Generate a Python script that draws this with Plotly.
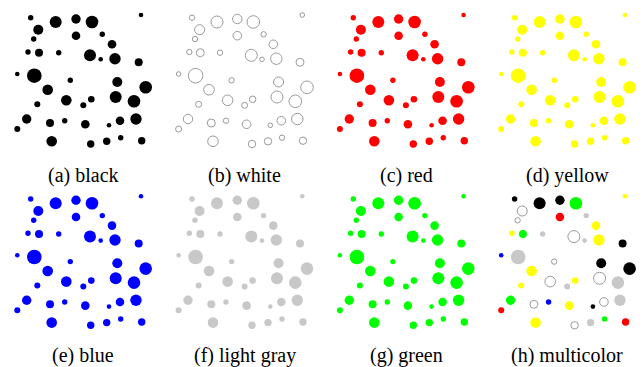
import plotly.graph_objects as go

# Dot layout shared by every panel (x, y in panel units, y grows downward)
dot_x = [30.7, 55.7, 76.0, 92.0, 141.0, 38.3, 33.7, 76.0, 102.3, 112.0,
         28.0, 39.0, 58.7, 90.0, 100.7, 115.0, 138.7, 17.3, 34.3, 70.3,
         117.3, 145.7, 47.7, 66.3, 91.3, 83.3, 115.7, 134.0, 37.3, 26.7,
         50.0, 64.7, 85.3, 109.0, 120.0, 136.0, 17.3, 51.7, 90.7, 106.7,
         120.7, 141.7]
dot_y = [17.7, 22.0, 19.0, 22.0, 15.0, 29.7, 39.0, 35.7, 34.3, 44.3,
         52.0, 52.7, 52.7, 55.3, 59.3, 58.7, 62.3, 74.0, 75.7, 80.3,
         82.0, 87.3, 89.7, 100.3, 99.3, 105.3, 97.0, 101.3, 104.3, 119.0,
         123.0, 120.7, 124.3, 125.3, 120.7, 119.0, 129.0, 141.3, 144.0, 141.3,
         137.7, 140.7]
dot_d = [5.4, 12.0, 9.4, 12.6, 4.6, 10.0, 5.4, 8.6, 5.4, 8.6,
         5.4, 8.0, 5.4, 12.0, 4.6, 11.4, 8.0, 4.6, 14.6, 5.4,
         10.0, 12.6, 10.6, 10.6, 6.6, 6.0, 12.0, 12.6, 6.0, 9.4,
         8.0, 5.4, 8.6, 4.6, 8.6, 11.4, 6.0, 10.6, 7.4, 7.4,
         5.4, 7.4]

# Colour of each dot in the mixed panel
mixed = ["black", "black", "black", "green", "yellow", "white", "white", "red", "gray", "yellow",
         "yellow", "green", "gray", "white", "gray", "yellow", "black", "blue", "gray", "white",
         "black", "black", "yellow", "white", "yellow", "gray", "white", "gray", "yellow", "green",
         "white", "blue", "yellow", "black", "white", "gray", "red", "yellow", "white", "gray",
         "green", "red"]

panel_labels = ["(a) black", "(b) white", "(c) red", "(d) yellow",
                "(e) blue", "(f) light gray", "(g) green", "(h) multicolor"]
panel_colors = ["black", "white", "red", "yellow", "blue", "gray", "green", None]

fills = {"black": "#000000", "white": "#ffffff", "red": "#ff0000", "yellow": "#ffff00",
         "blue": "#0000ff", "gray": "#c8c8c8", "green": "#00ff00"}

W, H = 642, 367
COL, ROW = 161.3, 181.3
PW = 158.0

fig = go.Figure()
layout = {}
for i, (label, col) in enumerate(zip(panel_labels, panel_colors)):
    r, c = divmod(i, 4)
    names = mixed if col is None else [col] * len(dot_x)
    fill = [fills[n] for n in names]
    line_c = ["#9a9a9a" if n == "white" else fills[n] for n in names]
    line_w = [1 if n == "white" else 0 for n in names]
    sfx = "" if i == 0 else str(i + 1)
    fig.add_trace(go.Scatter(
        x=dot_x, y=dot_y, mode="markers", xaxis="x" + sfx, yaxis="y" + sfx,
        cliponaxis=False, showlegend=False, hoverinfo="skip",
        marker=dict(size=dot_d, color=fill, opacity=1,
                    line=dict(color=line_c, width=line_w))))
    x0 = COL * c
    y0 = ROW * r
    layout["xaxis" + sfx] = dict(domain=[x0 / W, (x0 + PW) / W], range=[0, PW],
                                 visible=False, anchor="y" + sfx)
    layout["yaxis" + sfx] = dict(domain=[1 - (y0 + ROW) / H, 1 - y0 / H], range=[ROW, 0],
                                 visible=False, anchor="x" + sfx)
    fig.add_annotation(text=label, xref="paper", yref="paper",
                       x=(83.5 + COL * c) / W, y=1 - (175 + 180 * r) / H,
                       xanchor="center", yanchor="middle", showarrow=False,
                       font=dict(family="Liberation Serif", size=20, color="#000000"))

fig.update_layout(width=W, height=H, margin=dict(l=0, r=0, t=0, b=0),
                  paper_bgcolor="white", plot_bgcolor="white", **layout)
fig.write_html("out.html")
